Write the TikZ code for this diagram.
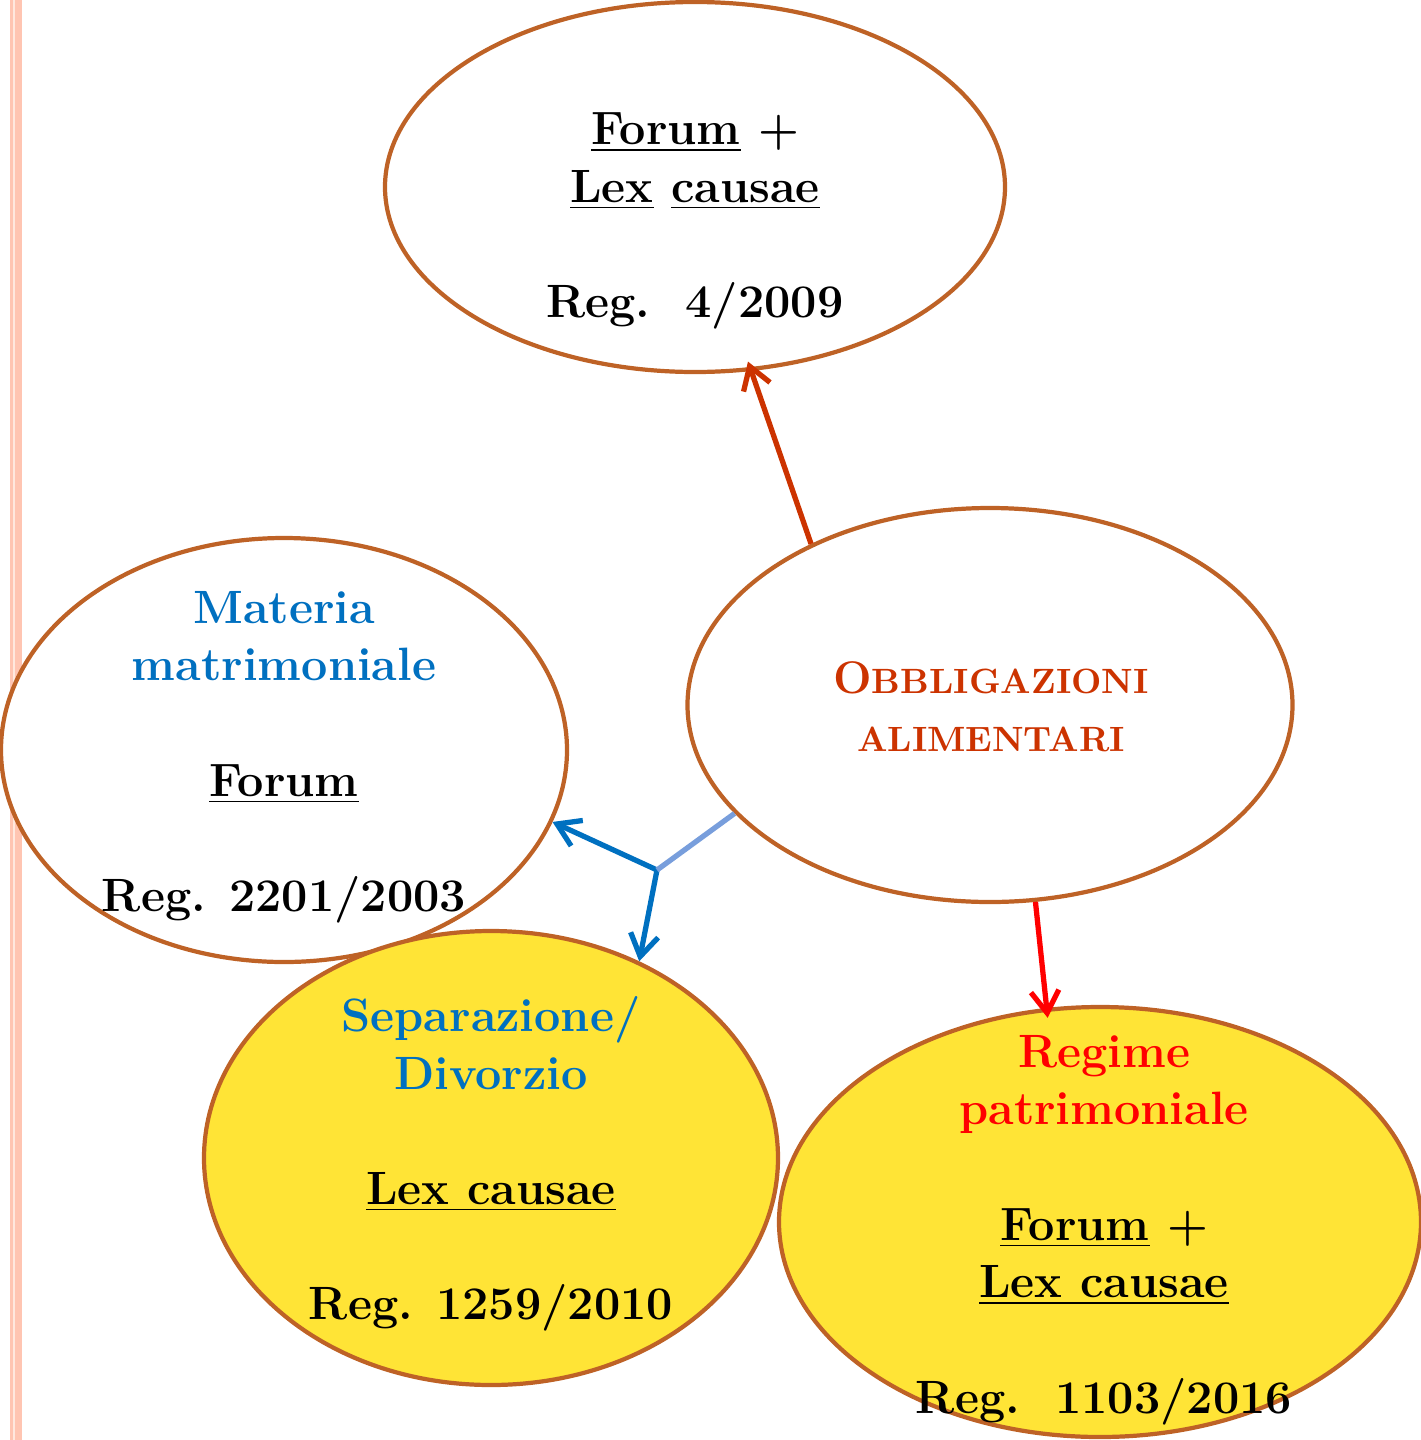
\documentclass[tikz,border=0pt]{standalone}
\usetikzlibrary{shapes.geometric,arrows.meta}
\definecolor{ellbrown}{RGB}{190,98,38}
\definecolor{ellyellow}{RGB}{255,228,54}
\definecolor{obbred}{RGB}{204,51,0}
\definecolor{lexblue}{RGB}{0,112,192}
\definecolor{paleblue}{RGB}{120,158,220}
\definecolor{stripepink}{RGB}{255,197,178}
\definecolor{stripepale}{RGB}{255,232,222}
\begin{document}
\begin{tikzpicture}[
    ell/.style={ellipse, draw=ellbrown, line width=1.2pt, fill=white, inner sep=0pt},
    yell/.style={ell, fill=ellyellow},
    txt/.style={align=center, font=\fontsize{13.3}{16.4}\selectfont\bfseries},
    arr/.style={-{Straight Barb[length=2.2mm,width=2.8mm]}, line width=1.5pt}
  ]
  \useasboundingbox (0,0) rectangle (14.21,-14.40);
  \fill[stripepink] (0.10,0) rectangle (0.125,-14.40);
  \fill[stripepale] (0.125,0) rectangle (0.15,-14.40);
  \fill[stripepink] (0.15,0) rectangle (0.22,-14.40);
  \node[ell, minimum width=6.20cm, minimum height=3.70cm] (forum) at (6.95,-1.87) {};
  \node[ell, minimum width=5.66cm, minimum height=4.24cm] (matr) at (2.84,-7.50) {};
  \node[ell, minimum width=6.05cm, minimum height=3.94cm] (obbl) at (9.90,-7.05) {};
  \node[yell, minimum width=5.74cm, minimum height=4.54cm] (sepdiv) at (4.91,-11.58) {};
  \node[yell, minimum width=6.42cm, minimum height=4.30cm] (regpat) at (11.00,-12.22) {};
  \node[txt] (forum-t) at (6.95,-2.21)
    {\underline{Forum} +\\ \underline{Lex} \underline{causae}\\[16.4pt] Reg.\ \ 4/2009};
  \node[txt, lexblue] (matr-t) at (2.84,-7.57)
    {Materia\\ matrimoniale\\[16.4pt] \color{black}\underline{Forum}\\[16.4pt] \color{black}Reg. 2201/2003};
  \node[txt, obbred, font=\fontsize{10}{16.5}\selectfont\bfseries] (obbl-t) at (9.91,-7.07)
    {{\fontsize{13}{16.5}\selectfont O}BBLIGAZIONI\\ ALIMENTARI};
  \node[txt, lexblue] (sepdiv-t) at (4.91,-11.64)
    {Separazione/\\ Divorzio\\[16.4pt] \color{black}\underline{Lex causae}\\[16.4pt] \color{black}Reg. 1259/2010};
  \node[txt, red] (regpat-t) at (11.04,-12.30)
    {Regime\\ patrimoniale\\[16.4pt] \color{black}\underline{Forum} +\\ \color{black}\underline{Lex causae}\\[16.4pt] \color{black}Reg.\ \ 1103/2016};
  \coordinate (fork) at (6.57,-8.70);
  \begin{scope}[arr]
    \draw[obbred, shorten >=-1mm] (obbl.138) -- (forum.-73);
    \draw[red, shorten >=-1mm] (obbl.-77) -- (regpat.104);
    \draw[lexblue] (fork) -- (matr.-15.5);
    \draw[lexblue] (fork) -- (sepdiv.53);
  \end{scope}
  \draw[paleblue, line width=1.5pt] (obbl.203) -- (fork);
\end{tikzpicture}
\end{document}
